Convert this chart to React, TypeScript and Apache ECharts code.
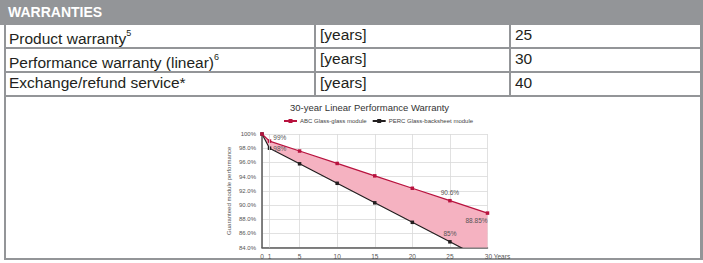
import React, { useEffect, useRef } from "react";
import * as echarts from "echarts";

// ---- table content ----
const headerTitle = "WARRANTIES";
const rowLabels = ["Product warranty", "Performance warranty (linear)", "Exchange/refund service*"];
const rowSups = ["5", "6", ""];
const rowUnits = ["[years]", "[years]", "[years]"];
const rowValues = ["25", "30", "40"];

// ---- chart data ----
const chartTitle = "30-year Linear Performance Warranty";
const abcName = "ABC Glass-glass module";
const percName = "PERC Glass-backsheet module";
const years = [0, 1, 5, 10, 15, 20, 25, 30];
const abcValues = [100, 99, 97.6, 95.85, 94.1, 92.35, 90.6, 88.85];
const percValues = [100, 98, 95.8, 93.05, 90.3, 87.55, 84.8, 82.05];
const abcLabels = ["", "99%", "", "", "", "", "90.6%", "88.85%"];
const percLabels = ["", "98%", "", "", "", "", "85%", ""];
const xTickValues = [0, 1, 5, 10, 15, 20, 25, 30];
const yAxisName = "Guaranteed module performance";

const GRAY = "#939598";
const FONT = "'Liberation Sans', Arial, sans-serif";

export default function App() {
  const ref = useRef<HTMLDivElement>(null);

  useEffect(() => {
    if (!ref.current) return;
    const chart = echarts.init(ref.current, null, { renderer: "svg" });

    const labelStyle = { fontSize: 6.5, color: "#555", fontFamily: FONT };
    const abcPositions: any = {
      1: { position: "right", distance: 2, offset: [0, -4] },
      6: { position: "top", distance: 3 },
      7: { position: "bottom", distance: 2, offset: [-11, 0] },
    };
    const percPositions: any = {
      1: { position: "right", distance: 2, offset: [0, 0] },
      6: { position: "top", distance: 3 },
    };
    const mk = (vals: number[], labels: string[], pos: any) =>
      years.map((x, i) => ({
        value: [x, vals[i]],
        label: labels[i]
          ? { show: true, formatter: labels[i], ...labelStyle, ...(pos[i] || {}) }
          : { show: false },
      }));

    chart.setOption({
      animation: false,
      textStyle: { fontFamily: FONT },
      title: {
        text: chartTitle,
        left: 290,
        top: 102,
        padding: 0,
        textStyle: { fontSize: 9.5, fontWeight: "normal", color: "#333", fontFamily: FONT },
      },
      legend: {
        data: [abcName, percName],
        left: 283,
        top: 118,
        padding: 0,
        itemWidth: 13,
        itemHeight: 5,
        itemGap: 5,
        textStyle: { fontSize: 6, color: "#444", fontFamily: FONT, padding: [0, 0, 0, -2] },
      },
      grid: { left: 262, right: 215.5, top: 134, bottom: 15.5, containLabel: false },
      xAxis: {
        type: "value",
        min: 0,
        max: 30,
        interval: 5,
        axisLine: { show: true, onZero: false, lineStyle: { color: "#595959", width: 1.5 } },
        axisTick: { show: false },
        splitLine: { show: true, lineStyle: { color: "#d9d9d9", width: 0.8 } },
        axisLabel: {
          customValues: xTickValues,
          fontSize: 6.5,
          color: "#555",
          margin: 5,
          formatter: (v: number) => (v === 30 ? "{y|30 Years}" : String(v)),
          rich: { y: { fontSize: 6.5, color: "#555", padding: [0, 0, 0, 20] } },
        },
      },
      yAxis: {
        type: "value",
        min: 84,
        max: 100,
        interval: 2,
        name: yAxisName,
        nameLocation: "middle",
        nameGap: 30,
        nameTextStyle: { fontSize: 6, color: "#555", fontFamily: FONT },
        axisLine: { show: true, lineStyle: { color: "#595959", width: 1.5 } },
        axisTick: { show: false },
        splitLine: { show: true, lineStyle: { color: "#d9d9d9", width: 0.8 } },
        axisLabel: {
          fontSize: 6,
          color: "#555",
          margin: 6,
          formatter: (v: number) => (v === 100 ? "100%" : v.toFixed(1) + "%"),
        },
      },
      series: [
        {
          name: "band",
          type: "custom",
          clip: true,
          z: 1,
          silent: true,
          data: [[0, 100]],
          encode: { x: 0, y: 1 },
          renderItem: (_p: any, api: any) => {
            const top = years.map((x, i) => api.coord([x, abcValues[i]]));
            const bottom = years.map((x, i) => api.coord([x, percValues[i]])).reverse();
            return {
              type: "polygon",
              shape: { points: top.concat(bottom) },
              style: { fill: "#F5B2C1" },
            };
          },
          markLine: {
            silent: true,
            symbol: "none",
            label: { show: false },
            lineStyle: { color: "#d9d9d9", width: 0.8, type: "solid" },
            data: [{ xAxis: 1 }],
          },
        },
        {
          name: percName,
          type: "line",
          z: 3,
          color: "#231F20",
          symbol: "rect",
          symbolSize: 3.5,
          lineStyle: { width: 1.2, color: "#231F20" },
          itemStyle: { color: "#231F20" },
          data: mk(percValues, percLabels, percPositions),
        },
        {
          name: abcName,
          type: "line",
          z: 4,
          color: "#B8123E",
          symbol: "rect",
          symbolSize: 3.5,
          lineStyle: { width: 1.2, color: "#B8123E" },
          itemStyle: { color: "#B8123E" },
          data: mk(abcValues, abcLabels, abcPositions),
        },
      ],
    });
    return () => chart.dispose();
  }, []);

  const rowTops = [24, 48, 72];
  const rowH = 22;
  const cell = (left: number, top: number, content: React.ReactNode, key: string) => (
    <div
      key={key}
      style={{
        position: "absolute",
        left,
        top,
        height: rowH,
        lineHeight: rowH + "px",
        fontSize: 15.5,
        color: "#231F20",
        fontFamily: FONT,
        whiteSpace: "nowrap",
      }}
    >
      {content}
    </div>
  );
  const box = (l: number, t: number, w: number, h: number, key: string) => (
    <div key={key} style={{ position: "absolute", left: l, top: t, width: w, height: h, background: GRAY }} />
  );

  return (
    <div style={{ position: "fixed", left: 0, top: 0, width: 703, height: 263, background: "#fff", overflow: "hidden" }}>
      <div
        style={{
          position: "absolute",
          left: 0,
          top: 0,
          width: 703,
          height: 25,
          background: GRAY,
          color: "#fff",
          fontWeight: "bold",
          fontSize: 14,
          lineHeight: "25px",
          fontFamily: FONT,
          paddingLeft: 8,
          boxSizing: "border-box",
        }}
      >
        {headerTitle}
      </div>
      {box(4, 25, 2, 235, "bl")}
      {box(700, 25, 3, 235, "br")}
      {box(4, 258, 699, 2, "bb")}
      {box(4, 47, 699, 2, "h1")}
      {box(4, 71, 699, 2, "h2")}
      {box(4, 95, 699, 2, "h3")}
      {box(314, 25, 2, 72, "v1")}
      {box(509, 25, 2, 72, "v2")}
      {rowLabels.map((t, i) =>
        cell(
          9,
          rowTops[i],
          <span>
            {t}
            {rowSups[i] ? (
              <sup style={{ fontSize: 9, position: "relative", top: -2 }}>{rowSups[i]}</sup>
            ) : null}
          </span>,
          "l" + i
        )
      )}
      {rowUnits.map((t, i) => cell(320, rowTops[i], t, "u" + i))}
      {rowValues.map((t, i) => cell(515, rowTops[i], t, "v" + i))}
      <div ref={ref} style={{ position: "absolute", left: 0, top: 0, width: 703, height: 263 }} />
    </div>
  );
}
